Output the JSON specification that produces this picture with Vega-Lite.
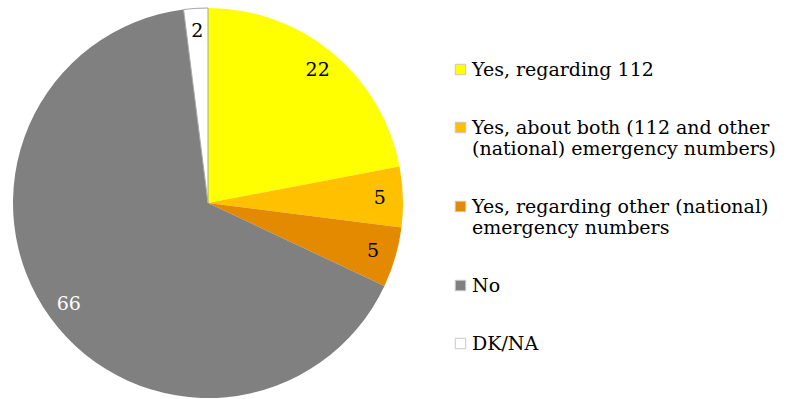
{
  "$schema": "https://vega.github.io/schema/vega-lite/v6.json",
  "autosize": {"type": "pad"},
  "padding": 0,
  "width": 416,
  "height": 406,
  "background": "white",
  "config": {"view": {"stroke": null}, "font": "DejaVu Serif"},
  "data": {"values": [
    {"cat": "Yes, regarding 112", "value": 22, "order": 1},
    {"cat": "Yes, about both (112 and other|(national) emergency numbers)", "value": 5, "order": 2},
    {"cat": "Yes, regarding other (national)|emergency numbers", "value": 5, "order": 3},
    {"cat": "No", "value": 66, "order": 4},
    {"cat": "DK/NA", "value": 2, "order": 5}
  ]},
  "encoding": {
    "theta": {"field": "value", "type": "quantitative", "stack": true},
    "order": {"field": "order", "type": "quantitative"}
  },
  "layer": [
    {
      "mark": {"type": "arc", "outerRadius": 195, "strokeWidth": 1},
      "encoding": {
        "color": {
          "field": "cat", "type": "nominal",
          "sort": {"field": "order"},
          "scale": {
            "domain": ["Yes, regarding 112", "Yes, about both (112 and other|(national) emergency numbers)", "Yes, regarding other (national)|emergency numbers", "No", "DK/NA"],
            "range": ["#FFFF00", "#FFC000", "#E38A00", "#808080", "#FFFFFF"]
          },
          "legend": {
            "title": null,
            "orient": "none",
            "legendX": 451,
            "legendY": 60,
            "symbolType": "square",
            "symbolSize": 110,
            "symbolStrokeWidth": 1,
            "symbolStrokeColor": "#c8c8c8",
            "labelFont": "DejaVu Serif",
            "labelFontSize": 19,
            "labelLineHeight": 22,
            "labelColor": "#000000",
            "labelLimit": 400,
            "labelOffset": 2,
            "rowPadding": 38,
            "labelExpr": "split(datum.label, '|')"
          }
        },
        "stroke": {
          "condition": {"test": "datum.cat === 'DK/NA'", "value": "#a6a6a6"},
          "value": null
        }
      }
    },
    {
      "mark": {"type": "text", "radius": 172, "font": "DejaVu Serif", "fontSize": 19},
      "encoding": {
        "text": {"field": "value", "type": "quantitative"},
        "color": {
          "condition": {"test": "datum.cat === 'No'", "value": "#ffffff"},
          "value": "#000000"
        }
      }
    }
  ]
}
